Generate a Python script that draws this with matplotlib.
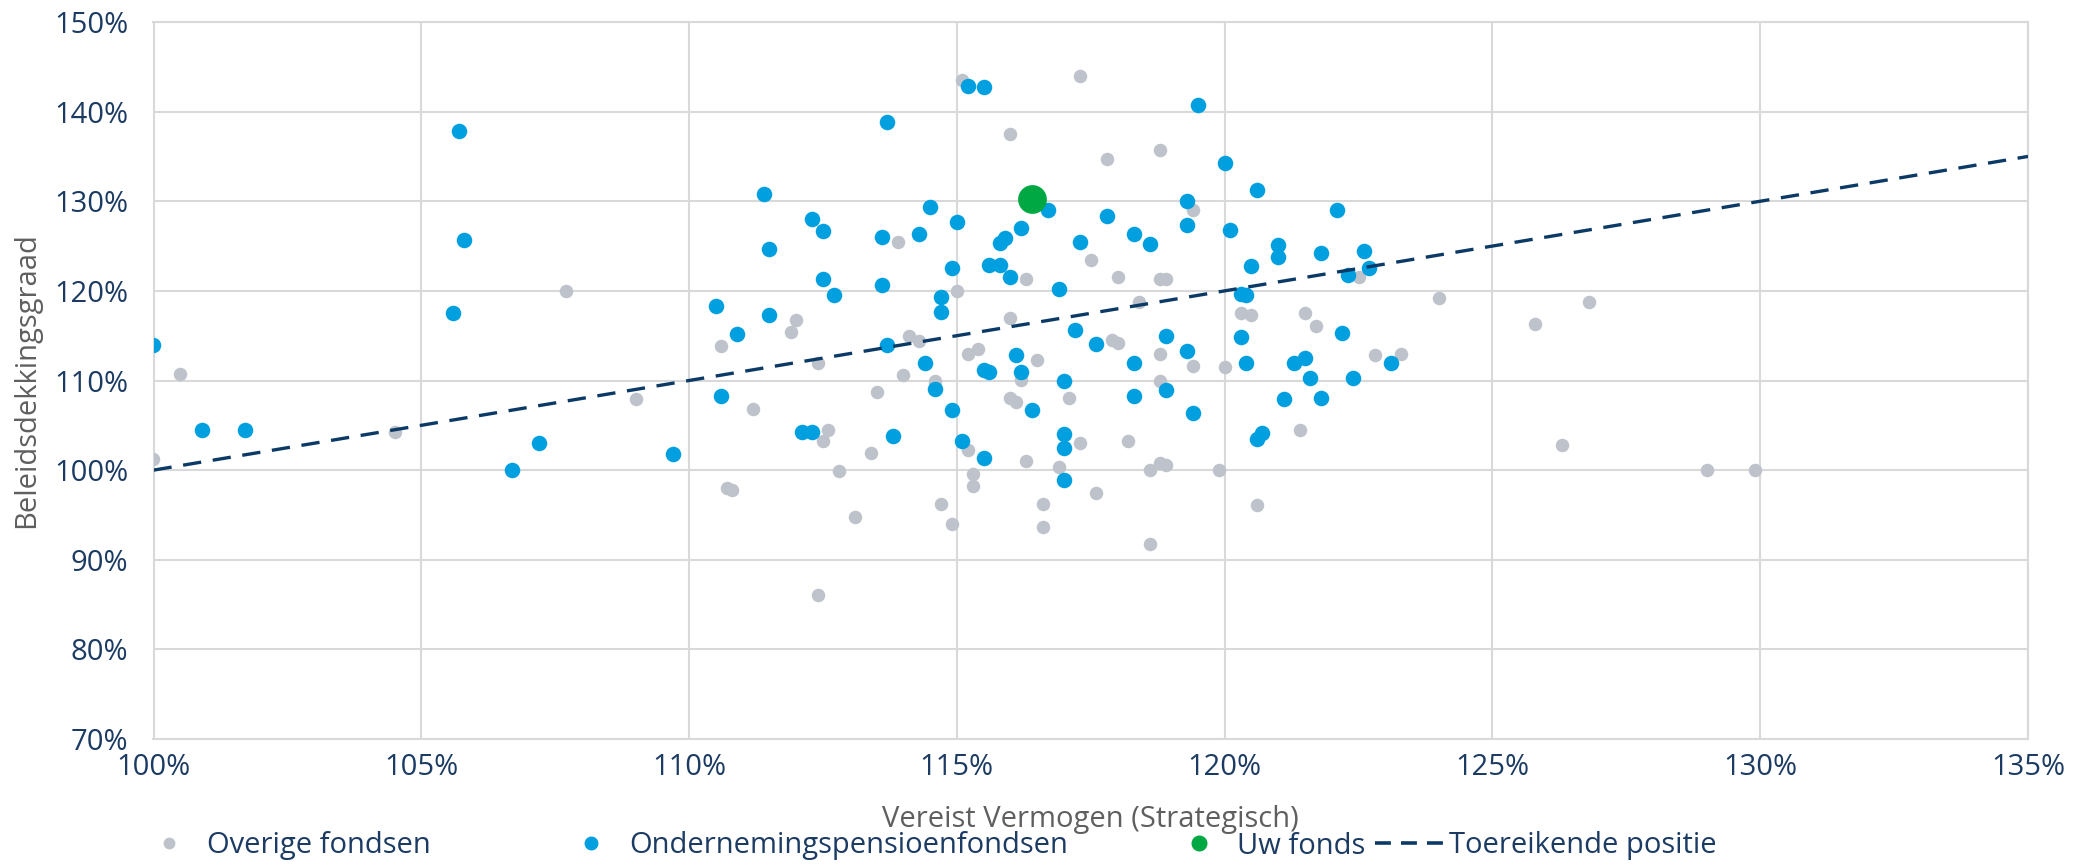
import numpy as np
import matplotlib
matplotlib.use("Agg")
import matplotlib.pyplot as plt
from matplotlib.lines import Line2D

plt.rcParams['font.family'] = ['Open Sans', 'DejaVu Sans']

# Ondernemingspensioenfondsen (x = vereist vermogen %, y = beleidsdekkingsgraad %)
blue_x = [100.0, 100.9, 101.7, 105.7, 105.8, 105.6, 106.7, 107.2, 109.7, 110.5,
          110.6, 110.9, 111.4, 111.5, 111.5, 112.1, 112.3, 112.3, 112.5, 112.5,
          112.7, 113.6, 113.6, 113.7, 113.7, 113.8, 114.3, 114.4, 114.5, 114.6,
          114.7, 114.7, 114.9, 114.9, 115.0, 115.1, 115.2, 115.5, 115.5, 115.6,
          115.5, 115.6, 115.8, 115.8, 115.9, 116.0, 116.1, 116.2, 116.2, 116.4,
          116.7, 116.9, 117.0, 117.0, 117.0, 117.0, 117.2, 117.3, 117.6, 117.8,
          118.3, 118.3, 118.3, 118.6, 118.9, 118.9, 119.3, 119.3, 119.3, 119.4,
          119.5, 120.0, 120.1, 120.3, 120.4, 120.3, 120.4, 120.5, 120.6, 120.6,
          120.7, 121.0, 121.0, 121.1, 121.3, 121.5, 121.6, 121.8, 121.8, 122.1,
          122.2, 122.3, 122.4, 122.6, 122.7, 123.1]
blue_y = [114.0, 104.5, 104.5, 137.8, 125.7, 117.5, 100.0, 103.0, 101.8, 118.3,
          108.3, 115.2, 130.8, 124.7, 117.3, 104.3, 104.3, 128.0, 126.7, 121.3,
          119.5, 126.0, 120.7, 138.8, 114.0, 103.8, 126.3, 112.0, 129.4, 109.0,
          119.3, 117.6, 122.6, 106.7, 127.7, 103.3, 142.9, 142.8, 111.2, 111.0,
          101.3, 122.9, 122.9, 125.3, 125.9, 121.5, 112.8, 110.9, 127.0, 106.7,
          129.0, 120.2, 110.0, 104.0, 102.5, 98.9, 115.6, 125.4, 114.1, 128.4,
          126.4, 112.0, 108.3, 125.2, 115.0, 108.9, 130.0, 127.3, 113.3, 106.4,
          140.7, 134.3, 126.8, 119.7, 119.5, 114.8, 112.0, 122.8, 131.3, 103.5,
          104.1, 125.1, 123.8, 107.9, 111.9, 112.5, 110.3, 124.2, 108.0, 129.0,
          115.3, 121.8, 110.3, 124.4, 122.6, 112.0]

# Overige fondsen
gray_x = [100.0, 100.5, 104.5, 107.7, 109.0, 110.6, 110.7, 110.8, 111.2, 111.9,
          112.0, 112.4, 112.4, 112.5, 112.6, 112.8, 113.1, 113.4, 113.5, 113.9,
          114.0, 114.1, 114.3, 114.6, 114.7, 114.9, 115.0, 115.1, 115.2, 115.2,
          115.3, 115.3, 115.4, 116.0, 116.0, 116.0, 116.1, 116.2, 116.3, 116.3,
          116.5, 116.6, 116.6, 116.9, 117.1, 117.3, 117.3, 117.5, 117.6, 117.8,
          117.9, 118.0, 118.0, 118.2, 118.4, 118.6, 118.6, 118.8, 118.8, 118.8,
          118.9, 118.8, 118.8, 118.9, 119.4, 119.4, 119.9, 120.0, 120.3, 120.5,
          120.6, 121.4, 121.5, 121.7, 122.5, 122.8, 123.3, 124.0, 125.8, 126.3,
          126.8, 129.0, 129.9]
gray_y = [101.2, 110.7, 104.2, 120.0, 107.9, 113.9, 98.0, 97.8, 106.8, 115.4,
          116.8, 86.1, 112.0, 103.3, 104.5, 99.9, 94.8, 101.9, 108.7, 125.5,
          110.6, 115.0, 114.4, 110.0, 96.2, 94.0, 120.0, 143.5, 113.0, 102.2,
          98.2, 99.6, 113.5, 137.5, 117.0, 108.0, 107.6, 110.1, 101.0, 121.3,
          112.3, 96.2, 93.7, 100.3, 108.0, 144.0, 103.0, 123.4, 97.4, 134.7,
          114.5, 114.2, 121.5, 103.3, 118.8, 100.0, 91.8, 135.7, 113.0, 121.3,
          121.3, 110.0, 100.8, 100.6, 111.6, 129.0, 100.0, 111.5, 117.5, 117.3,
          96.1, 104.5, 117.5, 116.1, 121.6, 112.8, 113.0, 119.2, 116.3, 102.8,
          118.8, 100.0, 100.0]

# Uw fonds
own_x = [116.4]
own_y = [130.3]

# Toereikende positie (beleidsdekkingsgraad = vereist vermogen)
line_x = [100, 135]
line_y = [100, 135]

x_ticks = [100, 105, 110, 115, 120, 125, 130, 135]
y_ticks = [70, 80, 90, 100, 110, 120, 130, 140, 150]

GRAY = '#BEC3CB'
BLUE = '#009FDF'
GREEN = '#00A843'
NAVY = '#0B3A66'
TICK = '#1C3B63'
GRID = '#D9D9D9'
LABEL = '#5F5F5F'
FS = 21

fig = plt.figure(figsize=(20.83, 8.68), dpi=100)
ax = fig.add_axes([153.5 / 2083, 129 / 868, 1874.5 / 2083, 717 / 868])

ax.scatter(gray_x, gray_y, s=95, color=GRAY, linewidths=0, zorder=3)
ax.scatter(blue_x, blue_y, s=125, color=BLUE, linewidths=0, zorder=4)
ax.scatter(own_x, own_y, s=430, color=GREEN, linewidths=0, zorder=5)
ax.plot(line_x, line_y, color=NAVY, lw=2.4, dashes=(5.5, 3.5), zorder=6)

ax.set_xlim(100, 135)
ax.set_ylim(70, 150)
ax.set_xticks(x_ticks)
ax.set_yticks(y_ticks)
ax.set_xticklabels(['%d%%' % v for v in x_ticks])
ax.set_yticklabels(['%d%%' % v for v in y_ticks])
ax.tick_params(axis='both', length=0, labelsize=FS, labelcolor=TICK)
ax.tick_params(axis='y', pad=18)
ax.tick_params(axis='x', pad=10)
ax.grid(True, color=GRID, lw=1.5, zorder=0)
ax.set_axisbelow(True)
for sp in ax.spines.values():
    sp.set_color(GRID)
    sp.set_linewidth(1.5)

ax.set_xlabel('Vereist Vermogen (Strategisch)', fontsize=FS, color=LABEL, va='center')
ax.xaxis.set_label_coords(0.5, -0.112)
ax.set_ylabel('Beleidsdekkingsgraad', fontsize=FS, color=LABEL)
ax.yaxis.set_label_coords(-0.060, 0.5)

# legend items placed one by one (irregular spacing in the original)
items = [
    (Line2D([], [], marker='o', ls='', color=GRAY, ms=7.5), 'Overige fondsen', 140, 2.0, 0.3),
    (Line2D([], [], marker='o', ls='', color=BLUE, ms=9), 'Ondernemingspensioenfondsen', 562, 2.0, 0.3),
    (Line2D([], [], marker='o', ls='', color=GREEN, ms=10.5), 'Uw fonds', 1170, 2.0, 0.3),
    (Line2D([], [], color=NAVY, lw=2.6, dashes=(4.4, 2.8)), 'Toereikende positie', 1375, 2.4, 0.15),
]
for h, lab, px, hl, tp in items:
    leg = fig.legend([h], [lab], loc='center left', bbox_to_anchor=(px / 2083, 1 - 846 / 868),
                     frameon=False, fontsize=FS, handlelength=hl, handletextpad=tp,
                     borderaxespad=0, borderpad=0)
    for t in leg.get_texts():
        t.set_color(TICK)

fig.savefig('out.png', dpi=100, facecolor='white')
